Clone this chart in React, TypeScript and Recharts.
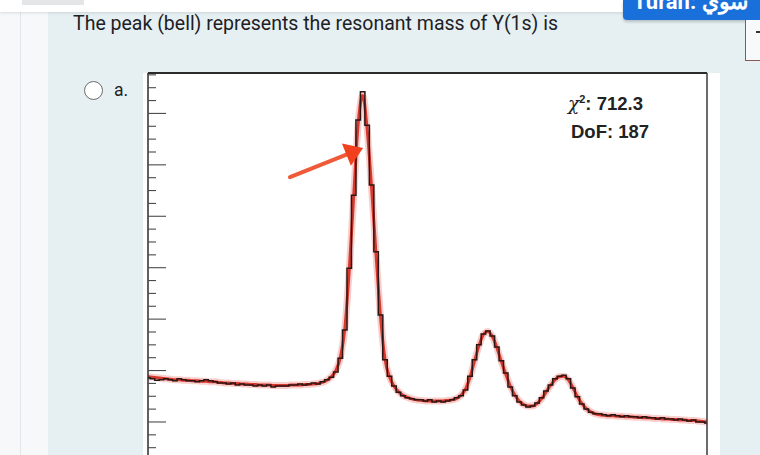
import React from "react";
import { LineChart, Line, XAxis, YAxis, ReferenceLine } from "recharts";

// invariant mass bins (GeV), 0.02 GeV wide
const BIN_START = 8.5;
const BIN_WIDTH = 0.02;

// histogram counts per bin
const COUNTS = [
  186, 184, 181, 182, 184, 182, 180, 184, 182, 180,
  180, 178, 180, 182, 180, 178, 176, 176, 174, 176,
  172, 174, 172, 172, 170, 172, 170, 172, 168, 170,
  170, 170, 172, 172, 174, 172, 174, 176, 174, 178,
  182, 187, 197, 224, 279, 399, 541, 687, 742, 677,
  561, 431, 308, 221, 189, 170, 158, 151, 147, 145,
  143, 143, 141, 143, 139, 141, 139, 141, 143, 147,
  151, 162, 189, 221, 250, 271, 277, 267, 246, 219,
  195, 168, 151, 139, 133, 129, 131, 137, 147, 160,
  172, 184, 189, 191, 184, 166, 149, 135, 125, 119,
  116, 116, 114, 112, 114, 112, 110, 112, 110, 110,
  108, 110, 108, 108, 106, 108, 106, 106, 104, 106,
  104, 102, 104, 100, 100, 98,
];

// fitted model (signal + background)
const FIT = [
  188, 187, 186, 185, 184, 183, 182, 182, 181, 181,
  180, 180, 179, 179, 178, 178, 177, 176, 176, 175,
  175, 174, 174, 173, 173, 172, 172, 172, 171, 171,
  171, 171, 172, 172, 172, 173, 173, 174, 175, 177,
  181, 188, 200, 225, 280, 395, 540, 680, 735, 670,
  555, 425, 305, 222, 188, 170, 159, 152, 148, 145,
  143, 142, 141, 141, 141, 141, 141, 142, 143, 146,
  152, 164, 187, 218, 248, 270, 276, 266, 245, 218,
  193, 170, 153, 141, 134, 131, 131, 136, 145, 158,
  171, 182, 188, 189, 182, 167, 150, 136, 126, 120,
  116, 114, 113, 112, 112, 111, 111, 110, 110, 109,
  109, 108, 108, 107, 107, 106, 106, 105, 105, 104,
  104, 103, 103, 102, 101, 100,
];

const Y_TICKS = Array.from({ length: 32 }, (_, i) => i * 25);
const QUESTION = "The peak (bell) represents the resonant mass of Y(1s) is";
const CHI2 = "712.3";
const DOF = "187";
const ARROW_FROM = { mass: 9.135, count: 576 };
const ARROW_TO = { mass: 9.462, count: 633 };

const data = COUNTS.map((c, i) => ({
  mass: +(BIN_START + i * BIN_WIDTH).toFixed(3),
  count: c,
  fit: FIT[i],
}));

function InTick(props: any) {
  const { x, y, payload } = props;
  const major = payload.value % 100 === 0;
  return (
    <line x1={x} y1={y} x2={x + (major ? 18 : 8)} y2={y} stroke="#4a4a4a" strokeWidth={1.1} />
  );
}

function Arrow(props: any) {
  const { x1, y1, x2, y2 } = props;
  const dx = x2 - x1;
  const dy = y2 - y1;
  const len = Math.hypot(dx, dy) || 1;
  const ux = dx / len;
  const uy = dy / len;
  const bx = x2 - ux * 18;
  const by = y2 - uy * 18;
  const h = 12;
  return (
    <g>
      <line x1={x1} y1={y1} x2={bx} y2={by} stroke="#ef5a38" strokeWidth={4} strokeLinecap="round" />
      <polygon
        points={`${x2},${y2} ${bx - uy * h},${by + ux * h} ${bx + uy * h},${by - ux * h}`}
        fill="#f23f1e"
      />
    </g>
  );
}

export default function App() {
  return (
    <div
      style={{
        position: "fixed",
        left: 0,
        top: 0,
        width: 760,
        height: 455,
        overflow: "hidden",
        background: "#e6f0f3",
        fontFamily: "Roboto, sans-serif",
      }}
    >
      {/* left rail */}
      <div style={{ position: "absolute", left: 0, top: 0, width: 48, height: 455, background: "#f6f8f9" }} />
      <div style={{ position: "absolute", left: 20, top: 12, width: 1, height: 443, background: "#e3e6e8" }} />
      {/* top strip */}
      <div
        style={{
          position: "absolute",
          left: 0,
          top: 0,
          width: 760,
          height: 12,
          background: "#ffffff",
          boxShadow: "0 1px 3px rgba(0,0,0,0.12)",
        }}
      />
      <div style={{ position: "absolute", left: 22, top: 0, width: 62, height: 5, background: "#e3e5e7" }} />
      {/* blue button */}
      <div
        style={{
          position: "absolute",
          left: 623,
          top: 0,
          width: 137,
          height: 20,
          background: "#1a70db",
          borderBottomLeftRadius: 4,
          boxShadow: "0 2px 3px rgba(0,0,0,0.2)",
          overflow: "hidden",
        }}
      >
        <span
          style={{
            position: "absolute",
            left: 10,
            top: -11,
            color: "#fff",
            fontWeight: 700,
            fontSize: 22,
            whiteSpace: "nowrap",
          }}
        >
          Turan: سوي
        </span>
      </div>
      {/* right box */}
      <div
        style={{
          position: "absolute",
          left: 745,
          top: 20,
          width: 20,
          height: 40,
          background: "#f7f9fa",
          borderLeft: "1px solid #8a5a52",
          borderBottom: "1px solid #8a5a52",
        }}
      />
      <div style={{ position: "absolute", left: 756, top: 31, width: 4, height: 1.5, background: "#333" }} />

      {/* question */}
      <div
        style={{
          position: "absolute",
          left: 73,
          top: 12,
          fontSize: 19.5,
          lineHeight: "24px",
          color: "#1d2125",
          whiteSpace: "nowrap",
        }}
      >
        {QUESTION}
      </div>

      {/* radio option */}
      <div
        style={{
          position: "absolute",
          left: 84,
          top: 81,
          width: 19,
          height: 19,
          borderRadius: "50%",
          border: "1px solid #6b6b6b",
          background: "#fff",
          boxSizing: "border-box",
        }}
      />
      <div style={{ position: "absolute", left: 114, top: 80, fontSize: 17.5, lineHeight: "20px", color: "#1d2125" }}>
        a.
      </div>

      {/* image background */}
      <div style={{ position: "absolute", left: 143, top: 73, width: 577, height: 382, background: "#ffffff" }} />

      <div style={{ position: "absolute", left: 0, top: 0 }}>
        <LineChart
          width={760}
          height={480}
          data={data}
          margin={{ top: 72, right: 52, bottom: 6.6, left: 147 }}
        >
          <XAxis
            dataKey="mass"
            type="number"
            orientation="top"
            domain={[8.5, 11.0]}
            allowDataOverflow
            height={1}
            tick={false}
            tickLine={false}
            axisLine={{ stroke: "#2b2b2b", strokeWidth: 2 }}
          />
          <YAxis
            type="number"
            domain={[0, 778.6]}
            allowDataOverflow
            ticks={Y_TICKS}
            interval={0}
            width={1}
            tickSize={0}
            tickMargin={0}
            tickLine={false}
            tick={<InTick />}
            axisLine={{ stroke: "#2b2b2b", strokeWidth: 1.5 }}
          />
          <YAxis
            yAxisId="right"
            orientation="right"
            type="number"
            domain={[0, 778.6]}
            width={1}
            tick={false}
            tickLine={false}
            axisLine={{ stroke: "#3a3a3a", strokeWidth: 1.5 }}
          />
          <Line
            dataKey="fit"
            type="monotone"
            stroke="#f3a7a2"
            strokeOpacity={0.55}
            strokeWidth={7}
            dot={false}
            activeDot={false}
            isAnimationActive={false}
          />
          <Line
            dataKey="fit"
            type="monotone"
            stroke="#d8392f"
            strokeWidth={3}
            dot={false}
            activeDot={false}
            isAnimationActive={false}
          />
          <Line
            dataKey="count"
            type="step"
            stroke="#2a1614"
            strokeWidth={1.5}
            dot={false}
            activeDot={false}
            isAnimationActive={false}
          />
          <ReferenceLine
            segment={[
              { x: ARROW_FROM.mass, y: ARROW_FROM.count },
              { x: ARROW_TO.mass, y: ARROW_TO.count },
            ]}
            shape={<Arrow />}
          />
        </LineChart>
      </div>

      {/* fit statistics */}
      <div
        style={{
          position: "absolute",
          left: 568,
          top: 88,
          fontFamily: "'Liberation Sans', Arial, sans-serif",
          fontWeight: 700,
          fontSize: 18.5,
          lineHeight: "22px",
          color: "#222",
          whiteSpace: "nowrap",
        }}
      >
        <div>
          <span style={{ fontStyle: "italic", fontWeight: 400, fontFamily: "'DejaVu Serif', serif" }}>χ</span>
          <sup style={{ fontSize: 11, verticalAlign: 7 }}>2</sup>: {CHI2}
        </div>
        <div style={{ marginTop: 6, marginLeft: 3 }}>DoF: {DOF}</div>
      </div>
    </div>
  );
}
